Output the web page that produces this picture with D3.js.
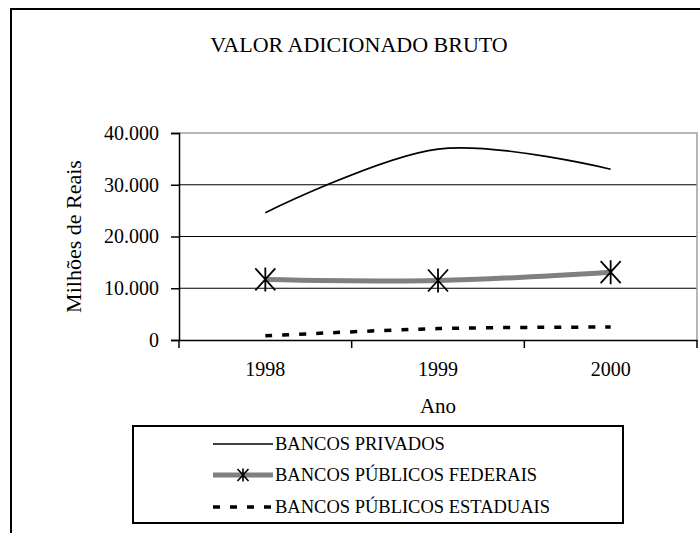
<!DOCTYPE html>
<html><head><meta charset="utf-8">
<script src="https://cdn.jsdelivr.net/npm/d3@7"></script>
<style>
body{margin:0;background:#fff;}
svg{display:block;}
text{font-family:"Liberation Serif","Times New Roman",serif;fill:#000;}
</style></head>
<body>
<svg id="chart" width="700" height="533"></svg>
<script>
const years = ["1998", "1999", "2000"];
const privados = [24600, 36900, 33000];
const federais = [11700, 11500, 13100];
const estaduais = [800, 2200, 2500];
const yTicks = [0, 10000, 20000, 30000, 40000];
const seriesNames = ["BANCOS PRIVADOS", "BANCOS PÚBLICOS FEDERAIS", "BANCOS PÚBLICOS ESTADUAIS"];
const title = "VALOR ADICIONADO BRUTO";
const yLabel = "Milhões de Reais";
const xLabel = "Ano";

const svg = d3.select("#chart");
const loc = d3.formatLocale({decimal: ",", thousands: ".", grouping: [3], currency: ["R$", ""]});
const fmt = loc.format(",");
const serif = "Liberation Serif, Times New Roman, serif";

const plot = {left: 179, right: 697, top: 133, bottom: 340};
const x = d3.scaleBand().domain(years).range([plot.left, plot.right]).padding(0);
const xc = d => x(d) + x.bandwidth() / 2;
const y = d3.scaleLinear().domain([0, 40000]).range([plot.bottom, plot.top]);

// outer frame
svg.append("rect").attr("x", 11).attr("y", 9).attr("width", 720).attr("height", 560)
  .attr("fill", "none").attr("stroke", "#000").attr("stroke-width", 2);

// title
svg.append("text").attr("x", 359).attr("y", 52).attr("text-anchor", "middle")
  .attr("font-size", 22).text(title);

// gridlines
svg.append("g").selectAll("line").data(yTicks.filter(d => d > 0 && d < 40000)).join("line")
  .attr("x1", plot.left).attr("x2", plot.right)
  .attr("y1", d => y(d)).attr("y2", d => y(d))
  .attr("stroke", "#000").attr("stroke-width", 1.2);

// plot border top/right gray
svg.append("path")
  .attr("d", `M${plot.left},${y(40000)}H${plot.right}V${plot.bottom}`)
  .attr("fill", "none").attr("stroke", "#a0a0a0").attr("stroke-width", 1.5);

// y axis
const yAxis = d3.axisLeft(y).tickValues(yTicks).tickFormat(fmt).tickSize(8).tickPadding(12);
const gy = svg.append("g").attr("transform", `translate(${plot.left},0)`).call(yAxis);
gy.select(".domain").attr("stroke", "#000").attr("stroke-width", 1.5);
gy.selectAll(".tick line").attr("stroke", "#000").attr("stroke-width", 1.5);
gy.selectAll(".tick text").attr("font-size", 20).attr("font-family", serif).attr("fill", "#000");

// x axis
const xAxis = d3.axisBottom(x).tickSize(0).tickPadding(22);
const gx = svg.append("g").attr("transform", `translate(0,${plot.bottom})`).call(xAxis);
gx.select(".domain").attr("stroke", "#000").attr("stroke-width", 1.5);
gx.selectAll(".tick text").attr("font-size", 20).attr("font-family", serif).attr("fill", "#000");
const bounds = years.map(d => x(d)).concat([plot.right]);
svg.append("g").selectAll("line").data(bounds).join("line")
  .attr("x1", d => d).attr("x2", d => d)
  .attr("y1", plot.bottom).attr("y2", plot.bottom + 8)
  .attr("stroke", "#000").attr("stroke-width", 1.5);

// axis titles
svg.append("text").attr("transform", `translate(81,${(plot.top + plot.bottom) / 2}) rotate(-90)`)
  .attr("text-anchor", "middle").attr("font-size", 22).text(yLabel);
svg.append("text").attr("x", (plot.left + plot.right) / 2).attr("y", 413)
  .attr("text-anchor", "middle").attr("font-size", 21).text(xLabel);

// lines
const line = d3.line().x((d, i) => xc(years[i])).y(d => y(d)).curve(d3.curveCardinal.tension(0));
svg.append("path").datum(estaduais).attr("d", line).attr("fill", "none")
  .attr("stroke", "#000").attr("stroke-width", 3.5).attr("stroke-dasharray", "7 10");
svg.append("path").datum(federais).attr("d", line).attr("fill", "none")
  .attr("stroke", "#808080").attr("stroke-width", 5);
svg.append("path").datum(privados).attr("d", line).attr("fill", "none")
  .attr("stroke", "#000").attr("stroke-width", 1.7);

const star = s => `M${-s},${-s * 1.1}L${s},${s * 1.1}M${s},${-s * 1.1}L${-s},${s * 1.1}M0,${-s * 1.2}V${s * 1.2}`;
svg.append("g").selectAll("path").data(federais).join("path")
  .attr("transform", (d, i) => `translate(${xc(years[i])},${y(d)})`)
  .attr("d", star(10)).attr("fill", "none").attr("stroke", "#000").attr("stroke-width", 1.8);

// legend
const lg = {x: 133, y: 426, w: 490, h: 97};
svg.append("rect").attr("x", lg.x).attr("y", lg.y).attr("width", lg.w).attr("height", lg.h)
  .attr("fill", "#fff").attr("stroke", "#000").attr("stroke-width", 2);
const rowY = [444, 475, 507];
const sx1 = 213, sx2 = 273;
const styles = [
  {stroke: "#000", w: 1.7, dash: null},
  {stroke: "#808080", w: 5, dash: null},
  {stroke: "#000", w: 3.5, dash: "7 10"}
];
seriesNames.forEach((name, i) => {
  svg.append("line").attr("x1", sx1).attr("x2", sx2).attr("y1", rowY[i]).attr("y2", rowY[i])
    .attr("stroke", styles[i].stroke).attr("stroke-width", styles[i].w)
    .attr("stroke-dasharray", styles[i].dash);
  if (i === 1) {
    svg.append("path").attr("transform", `translate(${(sx1 + sx2) / 2},${rowY[i]})`)
      .attr("d", star(5.5)).attr("fill", "none").attr("stroke", "#000").attr("stroke-width", 1.6);
  }
  svg.append("text").attr("x", sx2 + 2).attr("y", rowY[i] + 6).attr("font-size", 18.5).text(name);
});
</script>
</body></html>
